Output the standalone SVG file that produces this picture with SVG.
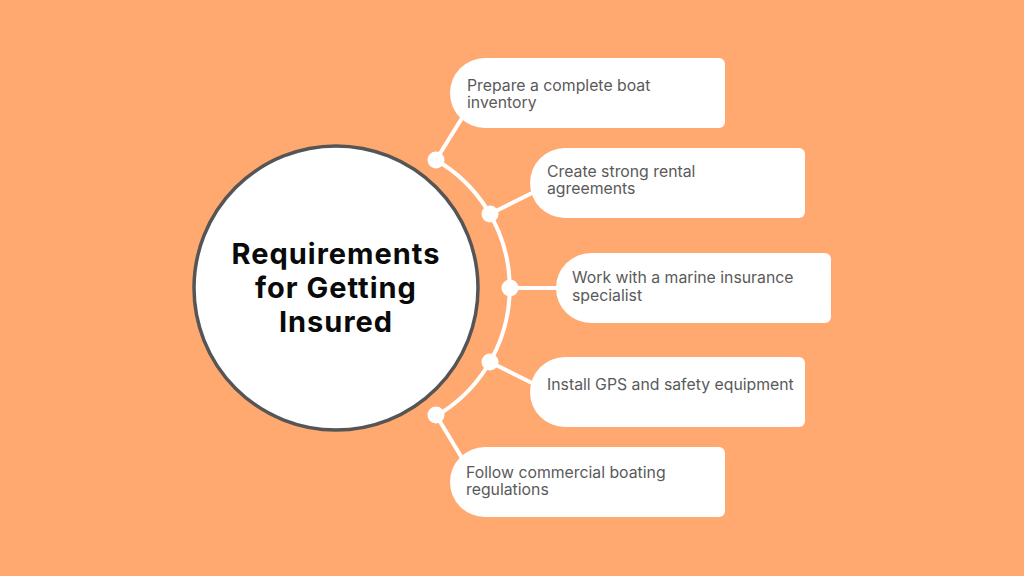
<svg xmlns="http://www.w3.org/2000/svg" width="1024" height="576" viewBox="0 0 1024 576">
<style>
.box{fill:#ffffff}
.lbl{font-family:Inter,"Noto Sans",sans-serif;font-size:15.8px;fill:#5a5a5a}
.title{font-family:Inter,Roboto,sans-serif;font-weight:700;font-size:29px;letter-spacing:1px;fill:#0a0a0a;text-anchor:middle}
.link{stroke:#ffffff;stroke-width:4;fill:none;stroke-linecap:round}
.dot{fill:#ffffff}
</style>
<rect width="1024" height="576" fill="#FFA970"/>
<g id="connectors">
<path class="link" d="M436,160 A148,148 0 0 1 436,416"/>
<line class="link" x1="436" y1="160" x2="462" y2="118"/>
<line class="link" x1="490" y1="214" x2="534" y2="192"/>
<line class="link" x1="510" y1="288" x2="560" y2="288"/>
<line class="link" x1="490" y1="362" x2="534" y2="384"/>
<line class="link" x1="436" y1="415" x2="462" y2="458"/>
<circle class="dot" cx="436" cy="160" r="8.5"/>
<circle class="dot" cx="490" cy="214" r="8.5"/>
<circle class="dot" cx="510" cy="288" r="8.5"/>
<circle class="dot" cx="490" cy="362" r="8.5"/>
<circle class="dot" cx="436" cy="415" r="8.5"/>
</g>
<g id="center">
<circle cx="336" cy="288" r="142" fill="#ffffff" stroke="#555555" stroke-width="3.5"/>
<text class="title" x="336" y="264">Requirements</text>
<text class="title" x="336" y="298">for Getting</text>
<text class="title" x="336" y="332">Insured</text>
</g>
<g id="node1">
<path class="box" d="M485,58 H719 A6,6 0 0 1 725,64 V122 A6,6 0 0 1 719,128 H485 A35,35 0 0 1 485,58 Z"/>
<text class="lbl" x="467" y="91">Prepare a complete boat</text>
<text class="lbl" x="467" y="108">inventory</text>
</g>
<g id="node2">
<path class="box" d="M565,148 H799 A6,6 0 0 1 805,154 V212 A6,6 0 0 1 799,218 H565 A35,35 0 0 1 565,148 Z"/>
<text class="lbl" x="547" y="177">Create strong rental</text>
<text class="lbl" x="547" y="194">agreements</text>
</g>
<g id="node3">
<path class="box" d="M591,253 H825 A6,6 0 0 1 831,259 V317 A6,6 0 0 1 825,323 H591 A35,35 0 0 1 591,253 Z"/>
<text class="lbl" x="572" y="283">Work with a marine insurance</text>
<text class="lbl" x="572" y="301">specialist</text>
</g>
<g id="node4">
<path class="box" d="M565,357 H799 A6,6 0 0 1 805,363 V421 A6,6 0 0 1 799,427 H565 A35,35 0 0 1 565,357 Z"/>
<text class="lbl" x="547" y="390">Install GPS and safety equipment</text>
</g>
<g id="node5">
<path class="box" d="M485,447 H719 A6,6 0 0 1 725,453 V511 A6,6 0 0 1 719,517 H485 A35,35 0 0 1 485,447 Z"/>
<text class="lbl" x="466" y="478">Follow commercial boating</text>
<text class="lbl" x="466" y="495">regulations</text>
</g>
</svg>
